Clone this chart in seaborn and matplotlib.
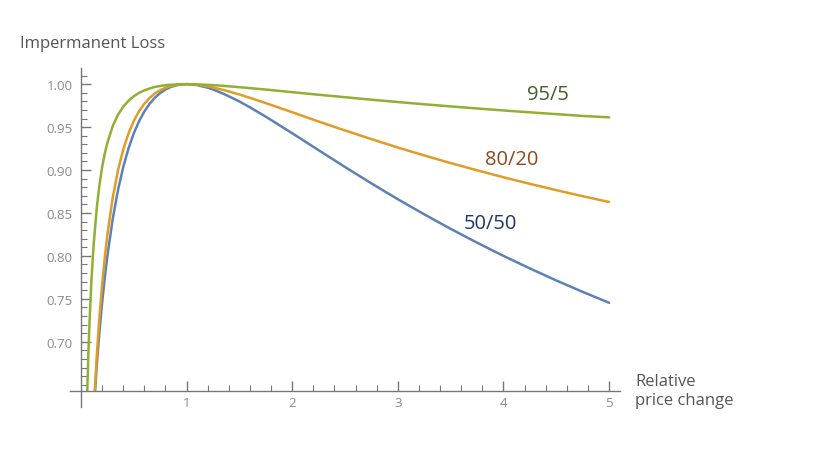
import numpy as np
import pandas as pd
import matplotlib
matplotlib.use("Agg")
import matplotlib.pyplot as plt
import matplotlib.ticker as mticker
import seaborn as sns

sns.set_style("white")
plt.rcParams["font.family"] = ["Open Sans", "DejaVu Sans"]

# valores (cambio relativo de precio vs. valor relativo)
price_change = [0.04, 0.05, 0.06, 0.07, 0.08, 0.09, 0.10, 0.12, 0.15, 0.175,
                0.20, 0.225, 0.25, 0.30, 0.35, 0.40, 0.45, 0.50, 0.55, 0.60,
                0.65, 0.70, 0.75, 0.80, 0.85, 0.90, 0.95, 1.00, 1.10, 1.20,
                1.25, 1.35, 1.50, 1.60, 1.75, 1.80, 2.00, 2.25, 2.50, 2.75,
                3.00, 3.25, 3.50, 3.75, 4.00, 4.25, 4.50, 4.75, 5.00]
loss_50_50 = [0.3846, 0.4259, 0.4622, 0.4945, 0.5238, 0.5505, 0.5750, 0.6186, 0.6736, 0.7120,
              0.7454, 0.7744, 0.8000, 0.8427, 0.8765, 0.9035, 0.9253, 0.9428, 0.9569, 0.9682,
              0.9772, 0.9843, 0.9897, 0.9938, 0.9967, 0.9986, 0.9997, 1.0000, 0.9989, 0.9959,
              0.9938, 0.9888, 0.9798, 0.9730, 0.9621, 0.9583, 0.9428, 0.9231, 0.9035, 0.8844,
              0.8660, 0.8484, 0.8315, 0.8154, 0.8000, 0.7854, 0.7714, 0.7581, 0.7454]
loss_80_20 = [0.3282, 0.3793, 0.4246, 0.4655, 0.5022, 0.5356, 0.5660, 0.6196, 0.6851, 0.7293,
              0.7664, 0.7978, 0.8247, 0.8675, 0.8996, 0.9240, 0.9427, 0.9572, 0.9686, 0.9772,
              0.9840, 0.9892, 0.9930, 0.9958, 0.9978, 0.9991, 0.9998, 1.0000, 0.9993, 0.9974,
              0.9962, 0.9932, 0.9880, 0.9841, 0.9779, 0.9758, 0.9673, 0.9565, 0.9461, 0.9360,
              0.9262, 0.9170, 0.9081, 0.8997, 0.8916, 0.8839, 0.8766, 0.8695, 0.8628]
loss_95_5 = [0.5339, 0.5958, 0.6456, 0.6865, 0.7204, 0.7492, 0.7739, 0.8134, 0.8566, 0.8828,
             0.9033, 0.9191, 0.9319, 0.9510, 0.9644, 0.9737, 0.9808, 0.9859, 0.9899, 0.9928,
             0.9950, 0.9968, 0.9979, 0.9988, 0.9993, 0.9997, 1.0000, 1.0000, 0.9998, 0.9992,
             0.9989, 0.9980, 0.9965, 0.9954, 0.9937, 0.9931, 0.9907, 0.9877, 0.9848, 0.9819,
             0.9792, 0.9766, 0.9741, 0.9717, 0.9694, 0.9672, 0.9651, 0.9630, 0.9614]
pools = ["50/50", "80/20", "95/5"]

df = pd.concat([
    pd.DataFrame({"r": price_change, "v": vals, "pool": p})
    for p, vals in zip(pools, [loss_50_50, loss_80_20, loss_95_5])
])

line_colors = {"50/50": "#5E81B5", "80/20": "#E19C24", "95/5": "#8FB032"}
label_colors = {"50/50": "#1F3573", "80/20": "#8B4A1E", "95/5": "#3E5F2A"}

fig = plt.figure(figsize=(8.19, 4.56), dpi=100)
ax = fig.add_axes([0.086, 0.141, 0.6706, 0.708])

sns.lineplot(data=df, x="r", y="v", hue="pool", palette=line_colors,
             linewidth=1.8, legend=False, ax=ax, sort=True)

ax.set_xlim(-0.1, 5.1)
ax.set_ylim(0.643, 1.019)

axis_color = "#777777"
ax.spines["top"].set_visible(False)
ax.spines["right"].set_visible(False)
ax.spines["left"].set_position(("data", 0))
ax.spines["left"].set_bounds(0.624, 1.019)
for s in ["left", "bottom"]:
    ax.spines[s].set_color(axis_color)
    ax.spines[s].set_linewidth(1.0)

ax.xaxis.set_major_locator(mticker.FixedLocator([1, 2, 3, 4, 5]))
ax.xaxis.set_minor_locator(mticker.FixedLocator(
    [x for x in np.round(np.arange(0.2, 5.01, 0.2), 2) if x not in (1, 2, 3, 4, 5)]))
ax.yaxis.set_major_locator(mticker.FixedLocator([0.70, 0.75, 0.80, 0.85, 0.90, 0.95, 1.00]))
ax.yaxis.set_minor_locator(mticker.FixedLocator(
    [y for y in np.round(np.arange(0.65, 1.011, 0.01), 2)
     if y not in (0.70, 0.75, 0.80, 0.85, 0.90, 0.95, 1.00)]))
ax.yaxis.set_major_formatter(mticker.FormatStrFormatter("%.2f"))

ax.tick_params(axis="both", which="both", bottom=True, left=True, top=False, right=False)
ax.tick_params(axis="both", which="major", direction="in", length=7, width=1,
               color=axis_color, labelcolor="#8a8a8a", labelsize=9.5)
ax.tick_params(axis="both", which="minor", direction="in", length=4, width=0.8,
               color=axis_color)
ax.tick_params(axis="x", pad=4)
ax.tick_params(axis="y", pad=6)
ax.set_xlabel("")
ax.set_ylabel("")

fig.text(20 / 819, 1 - 44 / 456, "Impermanent Loss", fontsize=12,
         color="#555555", va="center", ha="left")
fig.text(635 / 819, 1 - 392 / 456, "Relative\nprice change", fontsize=12,
         color="#555555", va="center", ha="left", linespacing=1.25)

ax.text(4.42, 0.988, "95/5", fontsize=14.5, color=label_colors["95/5"], ha="center", va="center")
ax.text(4.08, 0.9125, "80/20", fontsize=14.5, color=label_colors["80/20"], ha="center", va="center")
ax.text(3.88, 0.838, "50/50", fontsize=14.5, color=label_colors["50/50"], ha="center", va="center")

fig.savefig("out.png", dpi=100)
